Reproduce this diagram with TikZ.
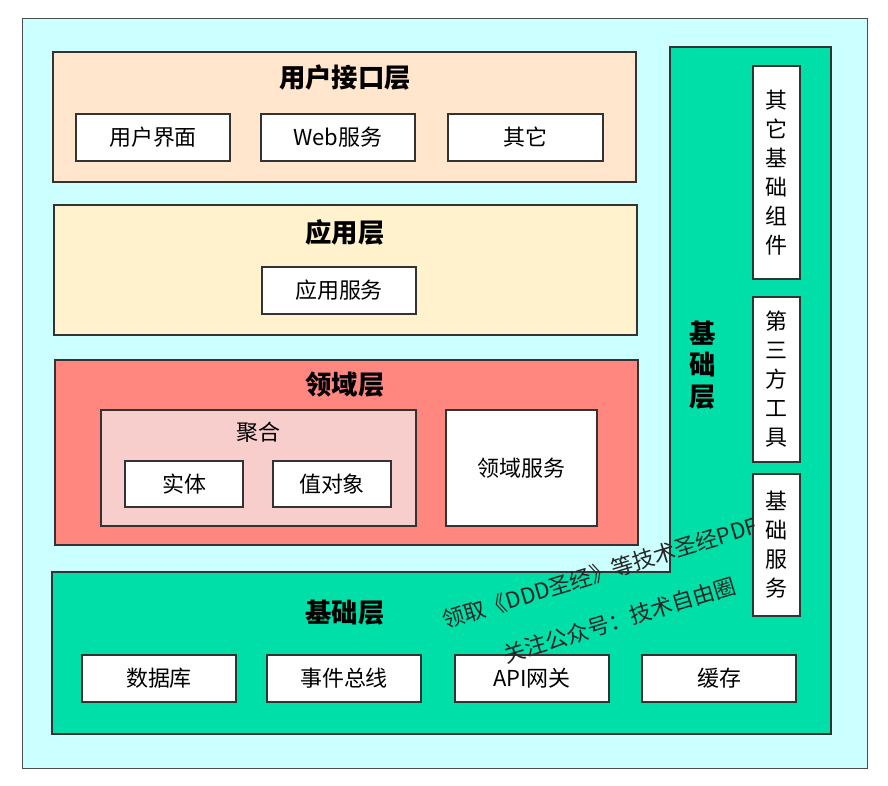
\documentclass[tikz,border=0pt]{standalone}
\usepackage{fontspec}
\setmainfont{Noto Sans CJK SC}
\usetikzlibrary{positioning}
\definecolor{bgcyan}{HTML}{CCFFFF}
\definecolor{infra}{HTML}{00DFA8}
\definecolor{uilayer}{HTML}{FFE6CC}
\definecolor{applayer}{HTML}{FFF2CC}
\definecolor{domlayer}{HTML}{FF8780}
\definecolor{aggr}{HTML}{F8CECC}
\tikzset{
  layer/.style={draw=black!80, line width=0.6pt},
  item/.style={draw=black!80, fill=white, line width=0.6pt},
  title/.style={font=\fontsize{15}{18}\selectfont\bfseries},
  txt/.style={font=\fontsize{12.5}{16.5}\selectfont},
  vtxt/.style={font=\fontsize{12.5}{16.5}\selectfont, align=center},
}
\begin{document}
\begin{tikzpicture}[x=0.02cm, y=-0.02cm]
\useasboundingbox (0,0) rectangle (888,786);
% background
\draw[fill=bgcyan, draw=black!70] (22,18) rectangle (867,768);
% infrastructure (L shape)
\draw[layer, fill=infra] (670,47) -- (831,47) -- (831,734) -- (52,734) -- (52,572) -- (670,572) -- cycle;
% user interface layer
\draw[layer, fill=uilayer] (53,52) rectangle (636,182);
\node[title] (ui) at (345,78) {用户接口层};
\draw[item] (76,114) rectangle (230,161);   \node[txt] (uia) at (153,137.5) {用户界面};
\draw[item] (261,114) rectangle (415,161);  \node[txt] (uib) at (338,137.5) {Web服务};
\draw[item] (448,114) rectangle (603,161);  \node[txt] (uic) at (525.5,137.5) {其它};
% application layer
\draw[layer, fill=applayer] (54,205) rectangle (637,335);
\node[title] (app) at (345,232) {应用层};
\draw[item] (262,267) rectangle (416,314);  \node[txt] (appa) at (339,290.5) {应用服务};
% domain layer
\draw[layer, fill=domlayer] (55,360) rectangle (638,545);
\node[title] (dom) at (345,385) {领域层};
\draw[layer, fill=aggr] (101,410) rectangle (416,526);
\node[txt] (agg) at (258,432) {聚合};
\draw[item] (125,461) rectangle (243,507);  \node[txt] (ent) at (184,484) {实体};
\draw[item] (273,461) rectangle (391,507);  \node[txt] (vo) at (332,484) {值对象};
\draw[item] (446,410) rectangle (597,526);  \node[txt] (dsv) at (521.5,468) {领域服务};
% infrastructure items
\node[title] (inf) at (345,613) {基础层};
\draw[item] (82,655) rectangle (236,702);   \node[txt] (db) at (159,678.5) {数据库};
\draw[item] (267,655) rectangle (421,702);  \node[txt] (bus) at (344,678.5) {事件总线};
\draw[item] (455,655) rectangle (609,702);  \node[txt] (gw) at (532,678.5) {API网关};
\draw[item] (642,655) rectangle (796,702);  \node[txt] (cache) at (719,678.5) {缓存};
% right column
\node[title, align=center] (infv) at (703,365) {基\\础\\层};
\draw[item] (753,66) rectangle (800,279);   \node[vtxt] (oth) at (776.5,172.5) {其\\它\\基\\础\\组\\件};
\draw[item] (753,297) rectangle (800,462);  \node[vtxt] (tool) at (776.5,379.5) {第\\三\\方\\工\\具};
\draw[item] (753,474) rectangle (800,616);  \node[vtxt] (base) at (776.5,545) {基\\础\\服\\务};
% watermark
\node[txt, rotate=17, text=black!85] (wm1) at (600,573) {领取《DDD圣经》等技术圣经PDF};
\node[txt, rotate=17, text=black!85] (wm2) at (620,620) {关注公众号：技术自由圈};
\end{tikzpicture}
\end{document}
